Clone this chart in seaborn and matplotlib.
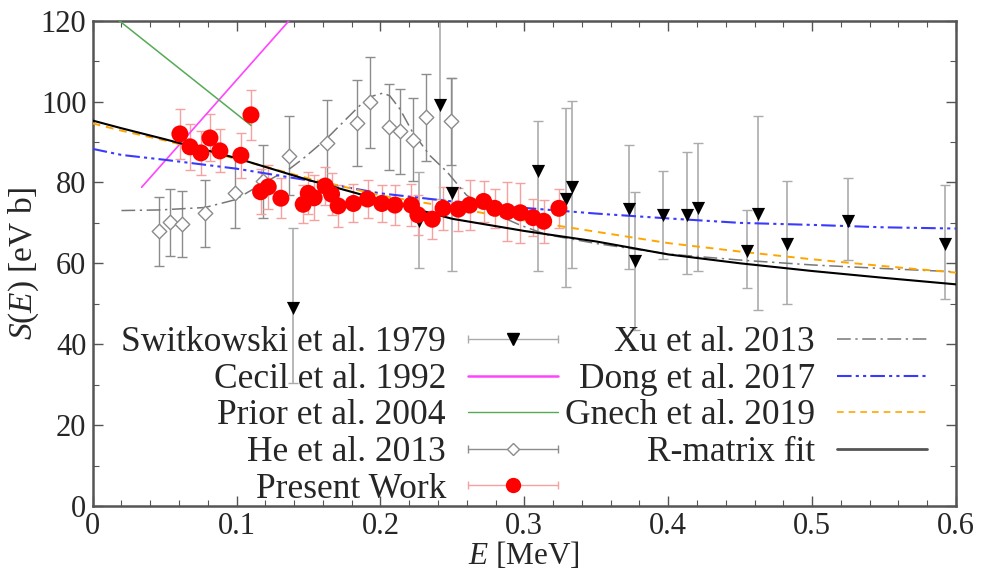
import numpy as np
import pandas as pd
import seaborn as sns
import matplotlib.pyplot as plt
from matplotlib.lines import Line2D
from matplotlib.legend_handler import HandlerBase

# ---- data ----
# Switkowski et al. 1979 (E, S, lower end, upper end of the bar)
sw_E = [0.139, 0.2266, 0.2412, 0.250, 0.3097, 0.329, 0.333, 0.373, 0.377, 0.396,
        0.413, 0.4206, 0.455, 0.4627, 0.4826, 0.5247, 0.5924]
sw_S = [49.0, 70.4, 99.1, 77.3, 82.8, 75.8, 78.9, 73.4, 60.5, 72.0,
        72.0, 73.6, 63.1, 72.1, 64.8, 70.5, 64.8]
sw_lo = [30.3, 58.9, 76.0, 58.1, 58.1, 54.1, 58.9, 58.5, 43.5, 61.0,
         57.3, 58.1, 53.8, 48.5, 49.9, 60.8, 51.1]
sw_hi = [68.7, 82.5, 124.0, 105.9, 95.1, 98.3, 100.2, 89.2, 77.7, 82.9,
         87.5, 89.8, 73.1, 96.5, 80.3, 81.0, 79.3]

# He et al. 2013
he_E = [0.0463, 0.0537, 0.0618, 0.078, 0.0988, 0.1185, 0.1366, 0.1625, 0.184,
        0.1926, 0.2058, 0.2139, 0.2226, 0.2315, 0.2493]
he_S = [67.9, 70.1, 69.7, 72.4, 77.5, 80.3, 86.6, 89.8, 94.7,
        99.8, 93.7, 92.6, 90.6, 96.1, 95.1]
he_err = [8.6, 8.3, 8.2, 8.3, 8.8, 9.0, 9.8, 10.5, 10.6,
          11.3, 10.6, 10.6, 10.3, 10.8, 10.7]

# Present work
pw_E = [0.0606, 0.0676, 0.0752, 0.0815, 0.0884, 0.103, 0.110, 0.1167, 0.122, 0.1308,
        0.1463, 0.1498, 0.1539, 0.1616, 0.166, 0.1706, 0.1812, 0.191, 0.2009, 0.21,
        0.2215, 0.226, 0.236, 0.2435, 0.254, 0.262, 0.2717, 0.2794, 0.2882, 0.2972,
        0.306, 0.3134, 0.324]
pw_S = [92.0, 88.8, 87.3, 91.0, 87.8, 86.7, 96.7, 77.7, 78.9, 76.1,
        74.6, 77.3, 76.2, 79.1, 77.1, 74.2, 74.8, 75.9, 74.8, 74.4,
        74.4, 72.0, 70.9, 73.6, 73.4, 74.4, 75.3, 73.6, 72.8, 72.5,
        71.3, 70.4, 73.6]
pw_err = [6.1, 5.7, 5.5, 5.8, 5.3, 5.5, 6.1, 5.5, 5.4, 4.9,
          4.7, 5.2, 5.6, 4.6, 5.2, 5.1, 4.7, 4.7, 4.6, 5.0,
          5.1, 5.0, 4.9, 5.3, 5.3, 6.2, 5.0, 4.8, 7.4, 7.4,
          4.5, 5.3, 4.9]

# model curves
cecil_E = [0.034, 0.1365]
cecil_S = [78.8, 120.0]
prior_E = [0.0, 0.110]
prior_S = [125.2, 94.1]

xu_E = [0.020, 0.0467, 0.078, 0.0988, 0.1185, 0.137, 0.1463, 0.1625, 0.174, 0.1856,
        0.1949, 0.2018, 0.2065, 0.2134, 0.2222, 0.2342, 0.2463, 0.2597, 0.2759, 0.2967,
        0.3153, 0.35, 0.40, 0.45, 0.50, 0.55, 0.60]
xu_S = [73.05, 73.2, 73.8, 75.7, 79.8, 83.4, 85.9, 90.8, 94.9, 99.0,
        101.4, 102.1, 101.4, 98.2, 92.5, 86.7, 82.6, 76.9, 72.8, 69.5,
        67.1, 64.9, 62.3, 60.8, 59.6, 58.7, 57.9]

grid_E = [0.0, 0.02, 0.05, 0.10, 0.15, 0.20, 0.25, 0.30, 0.35, 0.40, 0.45, 0.50, 0.55, 0.60]
dong_S = [88.3, 86.8, 85.6, 83.4, 80.5, 77.3, 75.3, 73.7, 72.3, 71.1, 70.0, 69.5, 68.9, 68.6]
gnech_S = [94.6, 92.8, 90.4, 85.8, 81.0, 76.8, 73.8, 70.6, 67.8, 65.0, 62.9, 61.0, 59.3, 57.7]
rmat_S = [95.3, 93.4, 90.7, 86.0, 80.6, 75.7, 71.0, 68.0, 65.4, 62.2, 60.0, 58.1, 56.4, 54.8]

# ---- style ----
sns.set_theme(style="ticks")
plt.rcParams["font.family"] = ["Liberation Serif", "DejaVu Serif"]
plt.rcParams["mathtext.fontset"] = "custom"
plt.rcParams["mathtext.rm"] = "Liberation Serif"
plt.rcParams["mathtext.it"] = "Liberation Serif:italic"

fig = plt.figure(figsize=(9.85, 5.74), dpi=100)
ax = fig.add_axes([0.0941, 0.1185, 0.8765, 0.8455])

c_sw = "#ababab"
c_he = "#8c8c8c"
c_pw_bar = "#f7a0a0"

# experimental data: bars first, markers on top
sw_yerr = [np.array(sw_S) - np.array(sw_lo), np.array(sw_hi) - np.array(sw_S)]
ax.errorbar(sw_E, sw_S, yerr=sw_yerr, fmt="none", ecolor=c_sw, elinewidth=1.2,
            capsize=3.5, capthick=1.0, zorder=2)
ax.errorbar(he_E, he_S, yerr=he_err, fmt="none", ecolor=c_he, elinewidth=1.0,
            capsize=3.5, capthick=1.0, zorder=2)
ax.errorbar(pw_E, pw_S, yerr=pw_err, fmt="none", ecolor=c_pw_bar, elinewidth=1.0,
            capsize=3.5, capthick=1.0, zorder=2)

# model curves
sns.lineplot(x=cecil_E, y=cecil_S, color="#ff44ff", lw=1.2, ax=ax, zorder=3)
sns.lineplot(x=prior_E, y=prior_S, color="#55aa55", lw=1.1, ax=ax, zorder=3)
sns.lineplot(x=xu_E, y=xu_S, color="#777777", lw=1.1,
             linestyle=(0, (9, 3, 1.5, 3)), ax=ax, zorder=3)
sns.lineplot(x=grid_E, y=dong_S, color="#3a3aff", lw=1.5,
             linestyle=(0, (7, 2, 1.5, 2, 1.5, 2)), ax=ax, zorder=3)
sns.lineplot(x=grid_E, y=gnech_S, color="#ffa500", lw=1.4,
             linestyle=(0, (4, 3)), ax=ax, zorder=3)
sns.lineplot(x=grid_E, y=rmat_S, color="black", lw=1.5, ax=ax, zorder=3)

sns.scatterplot(x=he_E, y=he_S, marker="D", s=55, facecolor="white",
                edgecolor=c_he, linewidth=1.0, ax=ax, zorder=4)
sns.scatterplot(x=sw_E, y=sw_S, marker="v", s=90, color="black",
                edgecolor="black", linewidth=0, ax=ax, zorder=4)
sns.scatterplot(x=pw_E, y=pw_S, marker="o", s=150, color="red",
                edgecolor="none", linewidth=0, ax=ax, zorder=5)

ax.set_xlim(0, 0.6)
ax.set_ylim(0, 120)
ax.set_xticks([0, 0.1, 0.2, 0.3, 0.4, 0.5, 0.6])
ax.set_xticklabels(["0", "0.1", "0.2", "0.3", "0.4", "0.5", "0.6"])
ax.set_yticks(np.arange(0, 121, 20))
ax.set_xticks(np.arange(0, 0.601, 0.02), minor=True)
ax.set_yticks(np.arange(0, 121, 10), minor=True)
ax.tick_params(which="both", direction="in", top=True, right=True,
               color="#555555", labelsize=22, pad=4.5)
ax.tick_params(which="major", length=7, width=1.0)
ax.tick_params(which="minor", length=4, width=0.8)
for sp in ax.spines.values():
    sp.set_color("#555555")
    sp.set_linewidth(1.8)

ax.set_xlabel(r"$E$ [MeV]", fontsize=22.5, labelpad=-1)
ax.set_ylabel(r"$S(E)$ [eV b]", fontsize=24, labelpad=0)


# legend handle: horizontal line with end caps and a centred marker
class CapLine(HandlerBase):
    def create_artists(self, legend, orig, xd, yd, w, h, fs, trans):
        y = h / 2 - yd
        x0, x1 = -xd, w - xd
        line = Line2D([x0, x1], [y, y], color=orig.get_color(), lw=1.0)
        caps = Line2D([x0, x1], [y, y], ls="none", marker="|", ms=6,
                      mew=1.0, color=orig.get_color())
        mark = Line2D([(x0 + x1) / 2], [y], ls="none", marker=orig.get_marker(),
                      ms=orig.get_markersize(), mfc=orig.get_markerfacecolor(),
                      mec=orig.get_markeredgecolor(), mew=orig.get_markeredgewidth())
        out = [line, caps, mark]
        for a in out:
            a.set_transform(trans)
        return out


h_sw = Line2D([], [], color=c_sw, marker="v", ms=8, mfc="black", mec="black")
h_ce = Line2D([], [], color="#ff44ff", lw=1.8)
h_pr = Line2D([], [], color="#55aa55", lw=1.0)
h_he = Line2D([], [], color=c_he, marker="D", ms=6.5, mfc="white", mec=c_he, mew=1.0)
h_pw = Line2D([], [], color=c_pw_bar, marker="o", ms=10, mfc="red", mec="red")
h_xu = Line2D([], [], color="#777777", lw=1.1, linestyle=(0, (9, 3, 1.5, 3)))
h_do = Line2D([], [], color="#3a3aff", lw=1.5, linestyle=(0, (7, 2, 1.5, 2, 1.5, 2)))
h_gn = Line2D([], [], color="#ffa500", lw=1.2, linestyle=(0, (4, 3)))
h_rm = Line2D([], [], color="#555555", lw=2.0)

handles = [h_sw, h_ce, h_pr, h_he, h_pw, h_xu, h_do, h_gn, h_rm]
labels = ["Switkowski et al. 1979", "Cecil et al. 1992", "Prior et al. 2004",
          "He et al. 2013", "Present Work", "Xu et al. 2013", "Dong et al. 2017",
          "Gnech et al. 2019", "R-matrix fit"]
ax.legend(handles, labels, ncol=2, markerfirst=False, frameon=False,
          loc="upper right", bbox_to_anchor=(0.9664, 0.37),
          borderpad=0, borderaxespad=0, fontsize=25.5, labelspacing=0.1,
          handlelength=2.55, handletextpad=0.62, columnspacing=0.18,
          handler_map={h_sw: CapLine(), h_he: CapLine(), h_pw: CapLine()})

fig.savefig("out.png", dpi=100)
